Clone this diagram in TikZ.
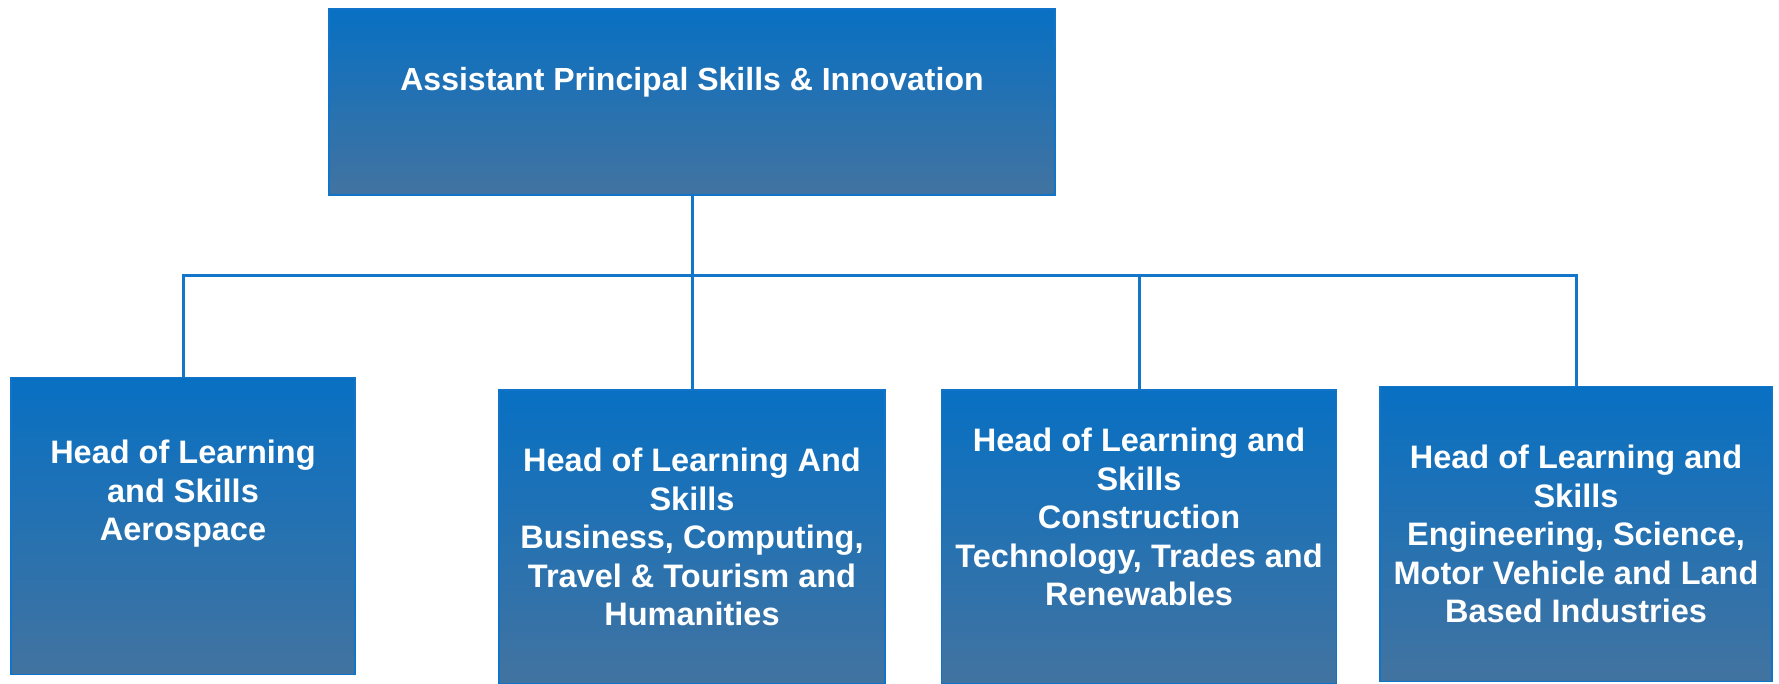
\documentclass[tikz,border=0pt]{standalone}
\usepackage{fontspec}
\setmainfont{Liberation Sans}
\usepackage{tikz}
\usetikzlibrary{positioning, calc}

\definecolor{boxtop}{RGB}{8,112,195}
\definecolor{boxbot}{RGB}{66,115,160}
\definecolor{boxline}{RGB}{18,116,200}
\definecolor{linkblue}{RGB}{20,118,200}

\begin{document}
\begin{tikzpicture}[x=1pt, y=-1pt,
  post/.style={rectangle, draw=boxline, line width=1.5pt, top color=boxtop, bottom color=boxbot, inner sep=0pt},
  posttext/.style={text=white, align=center, font=\bfseries\fontsize{32.5}{38.5}\selectfont},
  link/.style={draw=linkblue, line width=3pt}]
  \useasboundingbox (0,0) rectangle (1779,683);

  \node (ap) [post, minimum width=726pt, minimum height=186pt] at (692,102) {};
  \node (aero) [post, minimum width=344pt, minimum height=297pt] at (183,526) {};
  \node (busi) [post, minimum width=386pt, minimum height=294pt] at (692,537) {};
  \node (cons) [post, minimum width=395pt, minimum height=294pt] at (1139,537) {};
  \node (engi) [post, minimum width=392pt, minimum height=295pt] at (1576,534) {};

  \node (aptext) [posttext, font=\bfseries\fontsize{32}{38}\selectfont] at ([yshift=20pt]ap.center) {Assistant Principal Skills \& Innovation};
  \node (aerotext) [posttext] at ([yshift=32pt]aero.center) {Head of Learning\\and Skills\\Aerospace};
  \node (busitext) [posttext] at (busi.center) {Head of Learning And\\Skills\\Business, Computing,\\Travel \& Tourism and\\Humanities};
  \node (constext) [posttext] at ([yshift=20pt]cons.center) {Head of Learning and\\Skills\\Construction\\Technology, Trades and\\Renewables};
  \node (engitext) [posttext] at (engi.center) {Head of Learning and\\Skills\\ Engineering, Science,\\Motor Vehicle and Land\\Based Industries};

  \coordinate (bar) at (692,275);

  \path [link]
  (ap.south) edge (bar)
  (aero.north) edge[-, to path={|- (\tikztotarget)}] (bar)
  (busi.north) edge (bar)
  (cons.north) edge[-, to path={|- (\tikztotarget)}] (bar)
  (engi.north) edge[-, to path={|- (\tikztotarget)}] (bar);
\end{tikzpicture}
\end{document}
